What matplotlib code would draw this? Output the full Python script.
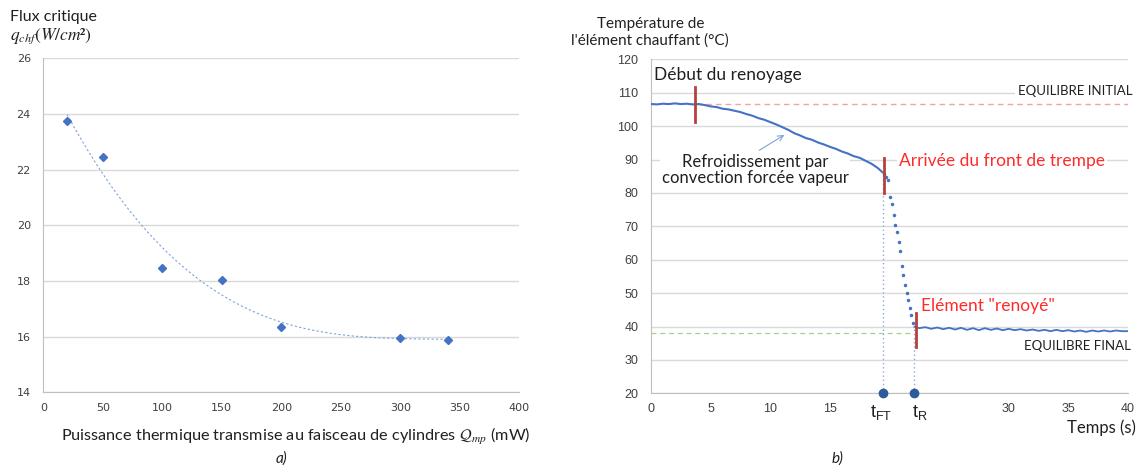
import numpy as np
import matplotlib
matplotlib.use('Agg')
import matplotlib.pyplot as plt

plt.rcParams['mathtext.fontset'] = 'stix'
plt.rcParams['font.family'] = ['Lato', 'DejaVu Sans']

# ---------------- data: panel a) ----------------
power_mw = [20, 50, 100, 150, 200, 300, 340]
chf_flux = [23.75, 22.44, 18.48, 18.02, 16.34, 15.96, 15.89]
a_xticks = [0, 50, 100, 150, 200, 250, 300, 350, 400]
a_yticks = [14, 16, 18, 20, 22, 24, 26]

# ---------------- data: panel b) ----------------
t_slow = [0.0, 0.5, 1.0, 1.5, 2.0, 2.5, 3.0, 3.5, 4.0, 4.5, 5.0, 5.5, 6.0, 6.5,
          7.0, 7.5, 8.0, 8.5, 9.0, 9.5, 10.0, 10.5, 11.0, 11.5, 12.0, 12.5,
          13.0, 13.5, 14.0, 14.5, 15.0, 15.5, 16.0, 16.5, 17.0, 17.5, 18.0,
          18.5, 19.0, 19.4]
T_slow = [106.6, 106.5, 106.7, 106.6, 106.8, 106.6, 106.7, 106.5, 106.6, 106.3,
          105.9, 105.7, 105.2, 105.0, 104.6, 104.2, 103.6, 103.1, 102.4, 101.9,
          101.2, 100.5, 99.7, 98.9, 97.9, 97.2, 96.4, 95.9, 95.1, 94.5, 93.8,
          93.2, 92.4, 91.8, 91.0, 90.5, 89.6, 88.7, 87.5, 86.2]
t_quench = [19.55, 19.72, 19.87, 20.03, 20.18, 20.34, 20.5, 20.66, 20.8, 20.9,
            21.04, 21.13, 21.28, 21.43, 21.54, 21.69, 21.82, 21.98]
T_quench = [85.6, 84.9, 83.8, 78.9, 76.7, 73.4, 70.4, 68.2, 65.4, 62.7, 58.1,
            55.4, 52.4, 50.1, 47.9, 45.4, 43.4, 41.1]
t_final = [22.1, 22.5, 23.0, 23.5, 24.0, 24.5, 25.0, 25.5, 26.0, 26.5, 27.0,
           27.5, 28.0, 28.5, 29.0, 29.5, 30.0, 30.5, 31.0, 31.5, 32.0, 32.5,
           33.0, 33.5, 34.0, 34.5, 35.0, 35.5, 36.0, 36.5, 37.0, 37.5, 38.0,
           38.5, 39.0, 39.5, 40.0]
T_final = [39.9, 39.5, 39.8, 39.3, 39.7, 39.2, 39.6, 39.1, 39.6, 39.0, 39.5,
           38.9, 39.5, 39.0, 39.4, 38.9, 39.3, 38.9, 39.2, 38.8, 39.1, 38.7,
           39.0, 38.6, 39.0, 38.6, 38.9, 38.5, 38.8, 38.4, 38.8, 38.5, 38.8,
           38.5, 38.8, 38.6, 38.6]
b_xticks = [0, 5, 10, 15, 20, 25, 30, 35, 40]
b_xlabels = ['0', '5', '10', '15', '', '', '30', '35', '40']
b_yticks = [20, 30, 40, 50, 60, 70, 80, 90, 100, 110, 120]
t_FT = 19.42
t_R = 22.05
T_init = 106.6
T_end = 38.2
marks_t = [3.7, 19.56, 22.23]
marks_lo = [101.3, 79.9, 34.0]
marks_hi = [111.6, 90.4, 44.0]

W, H = 1145, 468
fig = plt.figure(figsize=(W / 100, H / 100), dpi=100)


def px(x, y):
    return x / W, 1 - y / H


BLUE = '#4472c4'
GRID = '#d9d9d9'
TICK = '#404040'

# ---------------- panel a ----------------
ax1 = fig.add_axes([43.3 / W, 1 - 392.3 / H, (519.3 - 43.3) / W, (392.3 - 58.3) / H])
ax1.set_xlim(0, 400)
ax1.set_ylim(14, 26)
ax1.set_xticks(a_xticks)
ax1.set_yticks(a_yticks)
ax1.yaxis.grid(True, color=GRID, lw=1)
ax1.set_axisbelow(True)
for s in ['top', 'right']:
    ax1.spines[s].set_visible(False)
for s in ['left', 'bottom']:
    ax1.spines[s].set_color('#bfbfbf')
ax1.tick_params(length=0, labelsize=8, colors=TICK)
ax1.tick_params(axis='x', pad=8)
ax1.tick_params(axis='y', pad=9)
for lab in ax1.get_xticklabels() + ax1.get_yticklabels():
    lab.set_family('DejaVu Sans')

coef = np.polyfit(power_mw, chf_flux, 3)
xx = np.linspace(min(power_mw), max(power_mw), 200)
ax1.plot(xx, np.polyval(coef, xx), ls=(0, (2, 2)), lw=0.8, color='#7fa2dc')
ax1.plot(power_mw, chf_flux, 'D', ms=4.5, color=BLUE, zorder=3)

fig.text(*px(9.7, 17.3), 'Flux critique', ha='left', va='center', fontsize=11.5, color='#202020')
fig.text(*px(9.7, 36), r'$q_{chf}(W/cm²)$', ha='left', va='center', fontsize=12.5, color='#202020')
fig.text(*px(60.6, 436.7), r'Puissance thermique transmise au faisceau de cylindres $\mathcal{Q}_{mp}$ (mW)',
         ha='left', va='center', fontsize=11.7, color='#202020')
fig.text(*px(281, 459), 'a)', ha='center', va='center', fontsize=11, style='italic', color='#202020')

# ---------------- panel b ----------------
ax2 = fig.add_axes([651 / W, 1 - 393.3 / H, (1128 - 651) / W, (393.3 - 59.3) / H])
ax2.set_xlim(0, 40)
ax2.set_ylim(20, 120)
ax2.set_xticks(b_xticks)
ax2.set_xticklabels(b_xlabels)
ax2.set_yticks(b_yticks)
ax2.yaxis.grid(True, color=GRID, lw=1)
ax2.set_axisbelow(True)
for s in ['top', 'right']:
    ax2.spines[s].set_visible(False)
for s in ['left', 'bottom']:
    ax2.spines[s].set_color('#bfbfbf')
ax2.tick_params(length=0, labelsize=9, colors=TICK)
ax2.tick_params(axis='x', pad=7)
ax2.tick_params(axis='y', pad=9)
for lab in ax2.get_xticklabels() + ax2.get_yticklabels():
    lab.set_family('Liberation Sans')

# reference lines
ax2.plot([3.8, 40], [T_init, T_init], ls=(0, (4, 3)), lw=1, color='#f4a3a3', zorder=2)
ax2.plot([0, 21.9], [T_end, T_end], ls=(0, (4, 3)), lw=0.9, color='#a9d18e', zorder=2)
ax2.plot([t_FT, t_FT], [20, 86.2], ls=(0, (1, 2)), lw=1, color='#8eaadb', zorder=2)
ax2.plot([t_R, t_R], [20, 40.2], ls=(0, (1, 2)), lw=1, color='#8eaadb', zorder=2)

# temperature
ax2.plot(t_slow, T_slow, color=BLUE, lw=1.5, zorder=3)
ax2.plot(t_quench, T_quench, '.', ms=3, color=BLUE, zorder=3)
ax2.plot(t_final, T_final, color=BLUE, lw=1.3, zorder=3)

for tm, lo, hi in zip(marks_t, marks_lo, marks_hi):
    ax2.plot([tm, tm], [lo, hi], color='#b5413e', lw=2, zorder=4)

ax2.plot([t_FT, t_R], [20, 20], 'o', ms=6, color='#2e5c9a', clip_on=False, zorder=5)

ax2.annotate('', xy=(11.38, 97.8), xytext=(8.88, 92.3),
             arrowprops=dict(arrowstyle='->', color='#7fa2dc', lw=0.8), zorder=4)

wb = dict(facecolor='white', edgecolor='none', pad=1.5)
fig.text(*px(651, 24), 'Température de', ha='center', va='center', fontsize=11, color='#202020')
fig.text(*px(650, 41), "l'élément chauffant (°C)", ha='center', va='center', fontsize=11, color='#202020')
fig.text(*px(653.7, 75), 'Début du renoyage', ha='left', va='center', fontsize=12.5, color='#202020')
fig.text(*px(1017.5, 90.7), 'EQUILIBRE INITIAL', ha='left', va='center', fontsize=9.5, color='#202020', bbox=wb)
ax2.text(*px(755, 170.5), 'Refroidissement par\nconvection forcée vapeur', ha='center', va='center',
         fontsize=12, color='#202020', linespacing=1.0, bbox=wb, transform=fig.transFigure, zorder=2.5)
fig.text(*px(898.6, 160.7), 'Arrivée du front de trempe', ha='left', va='center', fontsize=12.5,
         color='#ff2a2a', bbox=wb)
fig.text(*px(921, 306), 'Elément "renoyé"', ha='left', va='center', fontsize=12.5, color='#ff2a2a')
fig.text(*px(1023.8, 345.7), 'EQUILIBRE FINAL', ha='left', va='center', fontsize=9.5, color='#202020')
fig.text(*px(1066.7, 428), 'Temps (s)', ha='left', va='center', fontsize=12, color='#202020')
fig.text(*px(837.5, 458.3), 'b)', ha='center', va='center', fontsize=11, style='italic', color='#202020')
fig.text(*px(870, 412), r'$\mathregular{t_{FT}}$', ha='left', va='center', fontsize=13,
         family='Liberation Sans', color='#202020')
fig.text(*px(911.7, 412), r'$\mathregular{t_{R}}$', ha='left', va='center', fontsize=13,
         family='Liberation Sans', color='#202020')

fig.savefig('out.png', dpi=100)
